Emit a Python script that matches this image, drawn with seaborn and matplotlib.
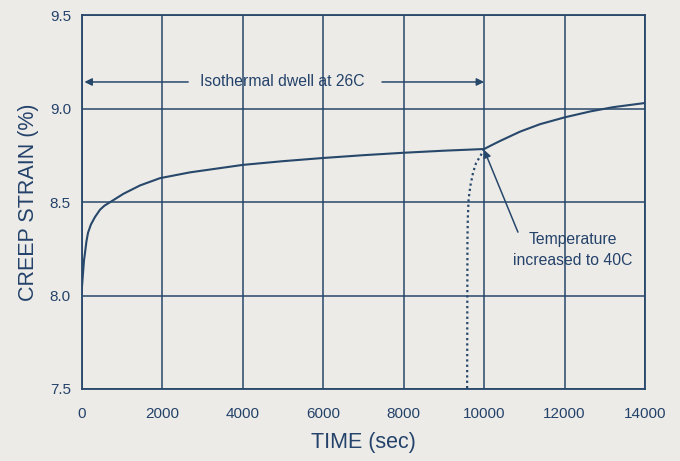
import matplotlib
matplotlib.use("Agg")
import matplotlib.pyplot as plt
import pandas as pd
import seaborn as sns

# Creep strain during the 26C isothermal dwell (time in seconds, strain in %)
dwell_time = [0, 25, 50, 75, 110, 150, 220, 320, 448, 560, 696, 1028, 1443,
              1940, 2686, 4000, 5000, 6000, 7000, 8000, 9000, 10000]
dwell_strain = [8.05, 8.12, 8.19, 8.23, 8.29, 8.337, 8.38, 8.42, 8.46, 8.482,
                8.50, 8.545, 8.59, 8.629, 8.66, 8.70, 8.72, 8.737, 8.752,
                8.765, 8.776, 8.785]

# Creep strain after the temperature step to 40C
hot_time = [10000, 10180, 10395, 10893, 11390, 12012, 12634, 13206, 13950, 14000]
hot_strain = [8.785, 8.805, 8.828, 8.878, 8.918, 8.955, 8.986, 9.009, 9.03, 9.032]

# Dotted guide dropping from the temperature step to the time axis
guide_time = [10000, 9900, 9800, 9726, 9660, 9615, 9595, 9585, 9577]
guide_strain = [8.785, 8.745, 8.71, 8.66, 8.59, 8.52, 8.42, 8.30, 7.5]

x_ticks = [0, 2000, 4000, 6000, 8000, 10000, 12000, 14000]
y_ticks = [7.5, 8.0, 8.5, 9.0, 9.5]
y_tick_labels = ["7.5", "8.0", "8.5", "9.0", "9.5"]

NAVY = "#27476b"
TEXT = "#24426a"
PAPER = "#ecebe7"

sns.set_theme(style="white")
plt.rcParams["font.family"] = ["Liberation Sans", "DejaVu Sans"]

fig = plt.figure(figsize=(6.8, 4.61), dpi=100, facecolor=PAPER)
ax = fig.add_axes([0.1206, 0.1562, 0.8279, 0.8102])
ax.set_facecolor(PAPER)

dwell = pd.DataFrame({"time": dwell_time, "strain": dwell_strain})
hot = pd.DataFrame({"time": hot_time, "strain": hot_strain})
guide = pd.DataFrame({"time": guide_time, "strain": guide_strain})

sns.lineplot(data=dwell, x="time", y="strain", ax=ax, color=NAVY, lw=1.5,
             estimator=None, sort=False, zorder=4)
sns.lineplot(data=hot, x="time", y="strain", ax=ax, color=NAVY, lw=1.5,
             estimator=None, sort=False, zorder=4)
sns.lineplot(data=guide, x="time", y="strain", ax=ax, color=NAVY, lw=1.6,
             linestyle=(0, (1, 1.4)), estimator=None, sort=False, zorder=4)

ax.set_xlim(0, 14000)
ax.set_ylim(7.5, 9.5)
ax.set_xticks(x_ticks)
ax.set_xticklabels([str(t) for t in x_ticks])
ax.set_yticks(y_ticks)
ax.set_yticklabels(y_tick_labels)

ax.grid(True, color=NAVY, lw=1.1)
ax.set_axisbelow(True)
for side in ["left", "right", "top", "bottom"]:
    ax.spines[side].set_visible(True)
    ax.spines[side].set_color(NAVY)
    ax.spines[side].set_linewidth(1.3)

ax.tick_params(axis="both", direction="out", length=5, width=1.1,
               color=NAVY, labelcolor=TEXT, labelsize=11)
ax.tick_params(axis="x", pad=8)
ax.tick_params(axis="y", pad=3)

ax.set_xlabel("TIME (sec)", fontsize=15.5, color=TEXT, labelpad=8)
ax.set_ylabel("CREEP STRAIN (%)", fontsize=15.5, color=TEXT, labelpad=8)

# Dwell annotation with arrows spanning the isothermal period
ax.text(4975, 9.144, "Isothermal dwell at 26C", fontsize=11.3, color=TEXT,
        ha="center", va="center", zorder=5)
arrow_kw = dict(arrowstyle="-|>", color=NAVY, lw=1.1, mutation_scale=11,
                shrinkA=0, shrinkB=0)
ax.annotate("", xy=(60, 9.144), xytext=(2640, 9.144), arrowprops=arrow_kw)
ax.annotate("", xy=(10000, 9.144), xytext=(7460, 9.144), arrowprops=arrow_kw)

# Temperature step annotation
ax.text(12210, 8.245, "Temperature\nincreased to 40C", fontsize=11.3,
        color=TEXT, ha="center", va="center", linespacing=1.5, zorder=5)
ax.annotate("", xy=(10000, 8.78), xytext=(10840, 8.34), arrowprops=arrow_kw)

fig.savefig("out.png", dpi=100, facecolor=PAPER)
